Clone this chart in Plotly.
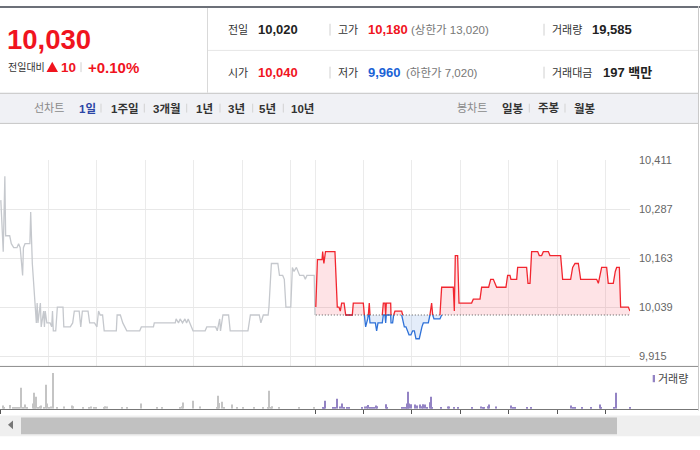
import plotly.graph_objects as go

W, H = 700, 450
BASE = 10020  # previous close

# ---------------- data ----------------
prev_t = [1, 4, 6, 7, 12, 14, 17, 21, 23, 25, 28, 29, 31, 37, 38, 39, 40, 45, 46, 47, 50, 51, 54, 55,
          56, 58, 62, 64, 65, 66, 69, 71, 78, 79, 87, 90, 92, 98, 100, 102, 109, 111, 117, 120, 122,
          124, 127, 129, 144, 145, 149, 152, 155, 157, 173, 175, 190, 191, 217, 218, 221, 223, 226,
          229, 231, 233, 235, 239, 254, 256, 267, 269, 272, 273, 276, 283, 285, 307, 310, 321, 323,
          326, 332, 333, 336, 344, 346, 350, 352, 354, 360, 362, 364, 367, 371, 376, 378, 380, 389, 390]
prev_p = [10310, 10180, 10370, 10220, 10220, 10200, 10190, 10190, 10200, 10190, 10120, 10190, 10200,
          10200, 10280, 10200, 10150, 10000, 10050, 10000, 10050, 9990, 10030, 9990, 10030, 10000,
          10000, 9990, 10030, 9980, 9980, 10040, 10040, 9990, 9990, 10000, 10030, 10030, 9990, 10030,
          10030, 10000, 10000, 9990, 10030, 10020, 10020, 9980, 9980, 10020, 10020, 10000, 9990, 9980,
          9980, 9990, 9990, 10000, 10000, 10010, 10000, 10010, 10000, 10010, 10000, 10010, 10000, 9980,
          9980, 9990, 9990, 9980, 10010, 9980, 10020, 10020, 9980, 9980, 10020, 10020, 10000, 10020,
          10020, 10040, 10150, 10150, 10120, 10120, 10110, 10040, 10040, 10140, 10130, 10140, 10120,
          10120, 10110, 10120, 10120, 10020]

today_t = [391, 393, 398.7, 399.5, 401, 403, 414.7, 417.6, 419.7, 421.3, 423, 426, 428, 436.2, 437.4,
           449.8, 451.1, 452.7, 455.2, 456, 457.2, 458.1, 464.7, 466.3, 468, 473.3, 474.6, 476.6,
           477.5, 478.3, 483.7, 484.1, 486.1, 487.4, 489, 497.3, 498.5, 500.6, 502.6, 504.3, 506.4,
           508.8, 510.9, 513, 515, 519.1, 520.8, 522.4, 524.1, 530.3, 532.3, 534.4, 535.7, 537.3,
           544.7, 546.8, 561.2, 562.5, 563.7, 566.6, 568.3, 583.9, 586, 594.3, 596.3, 605, 607.5,
           610.8, 614.9, 626.4, 628.5, 631.4, 632.6, 639.7, 640.9, 652, 653.7, 656.2, 658.2, 665.7,
           667.7, 670.6, 672.7, 678.9, 680.9, 694.1, 696.6, 706.5, 709, 711.9, 716, 718.9, 738.7,
           740.8, 744.9, 751.1, 753.1, 759.3, 761.8, 763.5, 766.8, 768.4, 777.9, 780]
today_p = [10040, 10160, 10160, 10180, 10150, 10180, 10180, 10040, 10040, 10030, 10050, 10050, 10020,
           10020, 10050, 10050, 10020, 9990, 10010, 10020, 10050, 10000, 10000, 9980, 10000, 10000,
           10050, 10050, 10000, 10050, 10050, 10000, 10000, 10020, 10030, 10030, 10010, 9990, 9990,
           9980, 9970, 9970, 9980, 9980, 9960, 9960, 9980, 9990, 10000, 10000, 10020, 10050, 10020,
           10010, 10010, 10090, 10090, 10030, 10170, 10170, 10050, 10050, 10060, 10060, 10090, 10090,
           10110, 10110, 10090, 10090, 10120, 10120, 10110, 10110, 10140, 10140, 10100, 10100, 10180,
           10180, 10170, 10170, 10180, 10180, 10170, 10170, 10110, 10110, 10140, 10150, 10150, 10110,
           10110, 10100, 10140, 10140, 10100, 10100, 10130, 10140, 10140, 10040, 10040, 10030]

prev_vol_t = [3.3, 4.5, 12.8, 15.7, 18.6, 20.6, 23.9, 26.4, 28.1, 31.4, 33, 41.3, 42.5, 43.7, 45, 47,
              49.9, 51.2, 54.1, 57.4, 58.6, 61.1, 63.1, 66, 70.2, 79.7, 88.7, 90.4, 102.3, 110.6,
              112.3, 116.4, 118.4, 128.8, 130.4, 132.9, 150.6, 156.8, 175, 194, 201, 222.9, 225.3,
              226.6, 239.4, 248, 268.3, 270.3, 271.6, 275.3, 277.7, 287.7, 293.4, 301.3, 314.5, 326,
              332.2, 333.5, 335.1, 337.2, 345.8, 370.6, 389]
prev_vol = [200, 120, 240, 80, 80, 80, 80, 1280, 80, 260, 120, 320, 980, 220, 740, 80, 160, 200, 80,
            1460, 320, 80, 140, 2180, 80, 140, 200, 160, 80, 100, 140, 120, 80, 120, 160, 140, 80, 80,
            320, 80, 80, 80, 160, 380, 500, 140, 80, 800, 360, 440, 80, 260, 80, 80, 80, 80, 120, 1100,
            120, 160, 80, 80, 80]

today_vol_t = [399.5, 401.1, 402.8, 412.7, 414.8, 417.7, 421, 423.9, 425.9, 429.2, 432.5, 448.6, 451.9,
               454, 456.1, 457.7, 460.2, 463.5, 465.6, 467.2, 477.9, 479.6, 498.2, 500.2, 502.7,
               504.3, 505.6, 506.8, 508.5, 514.3, 515.9, 520, 522.5, 524.2, 526.6, 529.1, 532.4,
               533.7, 534.9, 546, 554.3, 556.3, 562.1, 567.5, 584.8, 595.6, 597.6, 599.7, 604.2,
               605.9, 614.5, 632.7, 634.8, 638.1, 652.9, 657.9, 707, 709.9, 711.5, 721, 731.7, 742.9,
               744.5, 760.2, 762.7, 780]
today_vol = [80, 80, 500, 80, 80, 620, 140, 320, 120, 80, 80, 80, 140, 160, 240, 120, 80, 80, 200, 160,
             280, 80, 80, 80, 120, 320, 1040, 320, 280, 260, 200, 260, 160, 280, 260, 120, 400, 740, 80,
             80, 140, 140, 80, 80, 80, 140, 120, 80, 160, 260, 140, 200, 80, 80, 80, 80, 200, 80, 80, 80,
             80, 260, 80, 80, 980, 80]

y_ticks = [9915, 10039, 10163, 10287, 10411]
y_tick_text = ["9,915", "10,039", "10,163", "10,287", "10,411"]
grid_minutes = [0, 60, 120, 180, 240, 300, 360, 390, 450, 510, 570, 630, 690, 750]
vol_tick_minutes = [0, 390, 450, 510, 570, 630, 690, 750]

# ---------------- derived series for colouring ----------------
n = len(today_p)
upper = [max(p, BASE) for p in today_p]
lower = [min(p, BASE) for p in today_p]
red_line, blue_line = [], []
for i, p in enumerate(today_p):
    nb = [today_p[j] for j in (i - 1, i + 1) if 0 <= j < n]
    red_line.append(p if p >= BASE else (BASE if any(q > BASE for q in nb) else None))
    blue_line.append(p if p <= BASE else (BASE if any(q < BASE for q in nb) else None))

FONT = "Liberation Sans, Arial, Noto Sans CJK KR"
RED = "#f0141e"
BLUE = "#1a62d6"


def X(px):
    return px / W


def Y(py):
    return 1 - py / H


fig = go.Figure()
fig.add_trace(go.Scatter(x=prev_t, y=prev_p, mode="lines", line=dict(color="#c5c8cd", width=1.3),
                         hoverinfo="skip", xaxis="x", yaxis="y"))
fig.add_trace(go.Scatter(x=today_t, y=[BASE] * n, mode="lines", line=dict(width=0), hoverinfo="skip"))
fig.add_trace(go.Scatter(x=today_t, y=upper, mode="lines", line=dict(width=0), fill="tonexty",
                         fillcolor="rgba(245,60,75,0.14)", hoverinfo="skip"))
fig.add_trace(go.Scatter(x=today_t, y=[BASE] * n, mode="lines", line=dict(width=0), hoverinfo="skip"))
fig.add_trace(go.Scatter(x=today_t, y=lower, mode="lines", line=dict(width=0), fill="tonexty",
                         fillcolor="rgba(50,115,215,0.13)", hoverinfo="skip"))
fig.add_trace(go.Scatter(x=today_t, y=blue_line, mode="lines", line=dict(color="#2f72d8", width=1.3),
                         connectgaps=False, hoverinfo="skip"))
fig.add_trace(go.Scatter(x=today_t, y=red_line, mode="lines", line=dict(color="#f2262f", width=1.3),
                         connectgaps=False, hoverinfo="skip"))
fig.add_trace(go.Scatter(x=[today_t[0], today_t[-1]], y=[BASE, BASE], mode="lines",
                         line=dict(color="#555555", width=1, dash="1px,2px"), hoverinfo="skip"))
fig.add_trace(go.Bar(x=prev_vol_t, y=prev_vol, width=1.3, marker=dict(color="#c4c4c4", line=dict(width=0)),
                     xaxis="x2", yaxis="y2", hoverinfo="skip"))
fig.add_trace(go.Bar(x=today_vol_t, y=today_vol, width=1.3, marker=dict(color="#9383c4", line=dict(width=0)),
                     xaxis="x2", yaxis="y2", hoverinfo="skip"))

shapes = []


def rect(x0, y0, x1, y1, fill, line=None):
    shapes.append(dict(type="rect", xref="paper", yref="paper", x0=X(x0), x1=X(x1), y0=Y(y0), y1=Y(y1),
                       fillcolor=fill, line=dict(width=0) if line is None else line, layer="above"))


def hline(x0, x1, y, color, w=1):
    shapes.append(dict(type="line", xref="paper", yref="paper", x0=X(x0), x1=X(x1), y0=Y(y), y1=Y(y),
                       line=dict(color=color, width=w), layer="above"))


def vline(x, y0, y1, color, w=1):
    shapes.append(dict(type="line", xref="paper", yref="paper", x0=X(x), x1=X(x), y0=Y(y0), y1=Y(y1),
                       line=dict(color=color, width=w), layer="above"))


def tri(pts, color):
    d = "M " + " L ".join(f"{X(a)} {Y(b)}" for a, b in pts) + " Z"
    shapes.append(dict(type="path", xref="paper", yref="paper", path=d, fillcolor=color,
                       line=dict(width=0), layer="above"))


# header frame
rect(0, 0, 700, 2, "#6c7078")
vline(207.5, 2, 88, "#d9d9d9")
hline(208, 698, 45, "#e6e6e6")
# tab bar
rect(0, 88, 698, 119, "#f0f1f5")
hline(0, 698, 88.5, "#c6c6c6")
hline(0, 698, 119, "#c6c6c6")
vline(698.5, 0, 410, "#c9c9c9")
# header small dividers
for xx in (330, 544):
    vline(xx, 18, 30, "#d0d0d0")
    vline(xx, 61.5, 73.5, "#d0d0d0")
vline(81, 57, 67, "#d0d0d0")
# tab dividers
for xx in (101, 144.3, 186.7, 220, 252.7, 283.3, 529.3, 565):
    vline(xx, 99, 108, "#d3d3d3")
# separators of panes
hline(0, 698, 365.3, "#8c8c8c")
# scrollbar
rect(0, 415, 700, 436, "#efefef")
rect(21, 417, 617, 434, "#c1c1c1")
tri([(13, 420), (8, 424.5), (13, 429)], "#777777")
# up-triangle next to the change value
tri([(46.5, 67), (58, 67), (52.25, 56.5)], RED)
# volume legend swatch
rect(652.7, 374, 655, 381.3, "#9383c4")

ann = []


def T(x, y, s, size=11, color="#333333", bold=False, family=None):
    ann.append(dict(x=X(x), y=Y(y), xref="paper", yref="paper", text=f"<b>{s}</b>" if bold else s,
                    showarrow=False, xanchor="left", yanchor="middle", borderpad=0,
                    font=dict(size=size, color=color, family=family or FONT)))


T(5.5, 34.3, "10,030", 27.5, RED, True)
T(6.5, 62, "전일대비", 10, "#333333")
T(59.5, 62, "10", 13.5, RED, True)
T(86.5, 62, "+0.10%", 15, RED, True)

r1, r2 = 24.3, 67.7
T(226.5, r1, "전일", 11)
T(257, r1, "10,020", 13, "#222222", True)
T(337, r1, "고가", 11)
T(367, r1, "10,180", 13, RED, True)
T(410, r1, "(상한가 13,020)", 11.5, "#777777")
T(550.5, r1, "거래량", 11)
T(591, r1, "19,585", 13, "#222222", True)
T(226.5, r2, "시가", 11)
T(257, r2, "10,040", 13, RED, True)
T(337, r2, "저가", 11)
T(367, r2, "9,960", 13, BLUE, True)
T(405, r2, "(하한가 7,020)", 11.5, "#777777")
T(550.5, r2, "거래대금", 11)
T(601.5, r2, "197 백만", 13, "#222222", True)

tb = 103.5
T(33, tb, "선차트", 11, "#8a8a8a")
T(77.5, tb, "1일", 11.5, "#2b45a6", True)
for xx, s in ((110, "1주일"), (152, "3개월"), (195, "1년"), (226.5, "3년"), (258, "5년"), (290, "10년")):
    T(xx, tb, s, 11.5, "#333333", True)
T(456, tb, "봉차트", 11, "#8a8a8a")
for xx, s in ((500.5, "일봉"), (536.5, "주봉"), (573, "월봉")):
    T(xx, tb, s, 11.5, "#333333", True)
T(656.5, 378, "거래량", 11, "#444444")

fig.update_layout(
    width=W, height=H, margin=dict(l=0, r=0, t=0, b=0),
    paper_bgcolor="white", plot_bgcolor="rgba(0,0,0,0)",
    showlegend=False, barmode="overlay", font=dict(family=FONT),
    shapes=shapes, annotations=ann,
    xaxis=dict(domain=[0, 630 / W], range=[0, 780], tickvals=grid_minutes, showticklabels=False,
               showgrid=True, gridcolor="#ebebeb", gridwidth=1, zeroline=False, ticks="", fixedrange=True),
    yaxis=dict(domain=[Y(365), Y(156)], range=[9890.9, 10411.5], side="right", tickvals=y_ticks,
               ticktext=y_tick_text, showgrid=True, gridcolor="#e8e8e8", zeroline=False, ticks="",
               ticklabelstandoff=8, tickfont=dict(size=11, color="#666666", family=FONT)),
    xaxis2=dict(domain=[0, 698 / W], range=[0, 780 * 698 / 630], anchor="y2", tickvals=vol_tick_minutes,
                showticklabels=False, showgrid=False, zeroline=False, showline=True, linecolor="#777777",
                linewidth=1, ticks="outside", ticklen=4, tickcolor="#555555", tickwidth=1),
    yaxis2=dict(domain=[Y(408.3), Y(366)], range=[0, 2540], visible=False),
)

PIN = ("var gd=document.getElementById('{plot_id}');"
       "document.documentElement.style.margin='0';document.body.style.margin='0';"
       "document.body.style.padding='0';"
       "gd.style.position='absolute';gd.style.top='0px';gd.style.left='0px';")
fig.write_html("out.html", post_script=PIN, config={"displayModeBar": False})
